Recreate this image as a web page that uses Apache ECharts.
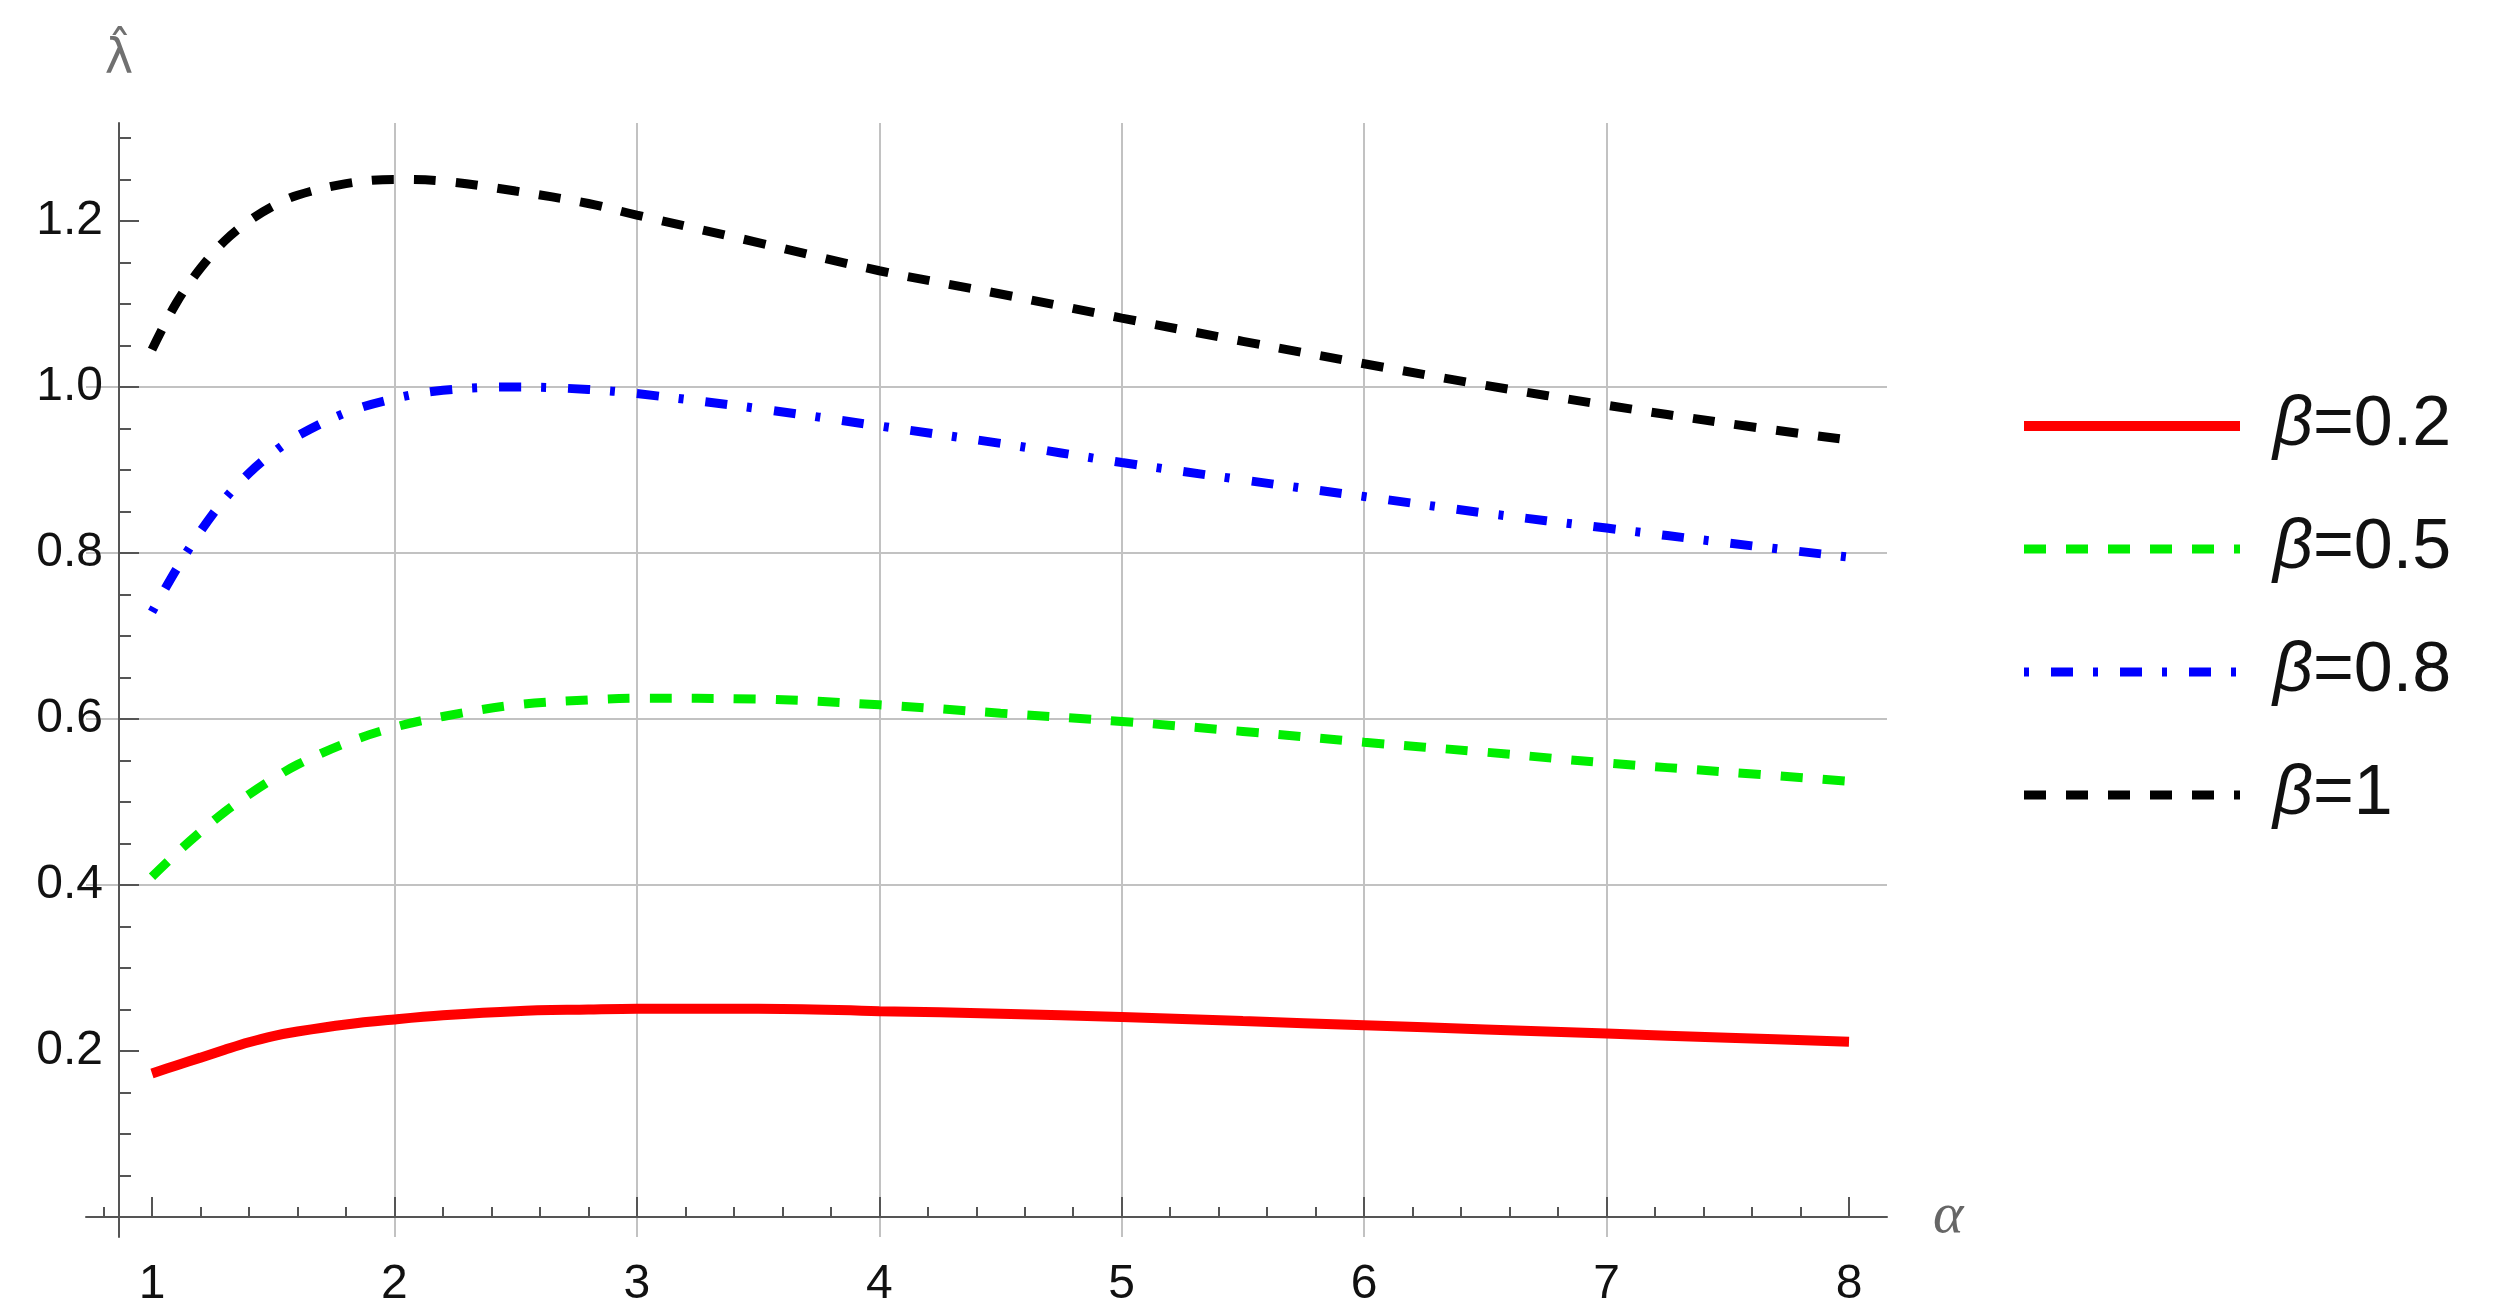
<!DOCTYPE html>
<html>
<head>
<meta charset="utf-8">
<script src="https://cdn.jsdelivr.net/npm/echarts@6/dist/echarts.min.js"></script>
<style>
html,body{margin:0;padding:0;background:#ffffff;}
#chart{width:2494px;height:1308px;}
</style>
</head>
<body>
<div id="chart"></div>
<script>
// ---- data ----
const alphaValues = [1.0, 1.1, 1.2, 1.3, 1.4, 1.5, 1.6, 1.8, 2.0, 2.2, 2.5, 2.8, 3.0, 3.5, 4.0, 4.5, 5.0, 5.5, 6.0, 6.5, 7.0, 7.5, 8.0];
const lambdaBeta02 = [0.173, 0.1825, 0.192, 0.2015, 0.2105, 0.218, 0.2235, 0.232, 0.238, 0.243, 0.248, 0.250, 0.251, 0.251, 0.248, 0.245, 0.241, 0.236, 0.231, 0.226, 0.221, 0.216, 0.211];
const lambdaBeta05 = [0.410, 0.438, 0.464, 0.488, 0.509, 0.528, 0.545, 0.571, 0.590, 0.603, 0.617, 0.623, 0.625, 0.624, 0.617, 0.607, 0.597, 0.585, 0.572, 0.560, 0.547, 0.536, 0.525];
const lambdaBeta08 = [0.729, 0.780, 0.826, 0.865, 0.896, 0.921, 0.941, 0.969, 0.986, 0.996, 1.000, 0.997, 0.992, 0.974, 0.953, 0.932, 0.909, 0.888, 0.868, 0.848, 0.830, 0.812, 0.795];
const lambdaBeta10 = [1.045, 1.101, 1.143, 1.176, 1.200, 1.218, 1.231, 1.245, 1.250, 1.248, 1.236, 1.221, 1.207, 1.174, 1.140, 1.112, 1.083, 1.055, 1.028, 1.002, 0.978, 0.956, 0.936];
const seriesNames = ['β=0.2', 'β=0.5', 'β=0.8', 'β=1'];
const xTickLabels = [1, 2, 3, 4, 5, 6, 7, 8];
const yTickLabels = [0.2, 0.4, 0.6, 0.8, 1.0, 1.2];
const xAxisTitle = 'α';
const yAxisTitle = 'λ\u0302';

// ---- layout / style ----
const X_MIN = 0.7278, X_MAX = 8.1567;
const Y_MIN = -0.0241, Y_MAX = 1.318;
const xMinorTicks = [];
for (let i = 4; i <= 40; i++) { if (i % 5 !== 0) xMinorTicks.push(Math.round(i * 20) / 100); }
const yMinorTicks = [];
for (let i = 1; i <= 26; i++) { yMinorTicks.push(Math.round(i * 5) / 100); }

const AXIS_COLOR = '#555555';
const GRID_COLOR = '#c2c2c2';
const LABEL_FONT = 'Liberation Sans';

function pairs(ys) { return alphaValues.map((a, i) => [a, ys[i]]); }

const chart = echarts.init(document.getElementById('chart'), null, {renderer: 'canvas'});
const option = {
  backgroundColor: '#ffffff',
  animation: false,
  grid: {left: 86, top: 123, width: 1801, height: 1114, containLabel: false, outerBoundsMode: 'none'},
  xAxis: [
    {
      type: 'value', min: X_MIN, max: X_MAX, position: 'bottom', splitNumber: 7,
      name: xAxisTitle, nameLocation: 'end', nameGap: 46,
      nameTextStyle: {fontFamily: 'Liberation Serif', fontStyle: 'italic', fontSize: 58, color: '#666666', verticalAlign: 'middle', align: 'left'},
      axisLine: {show: true, onZero: true, onZeroAxisIndex: 0, lineStyle: {color: AXIS_COLOR, width: 2}},
      axisTick: {show: true, customValues: xTickLabels, inside: true, length: 20, lineStyle: {color: AXIS_COLOR, width: 2}},
      axisLabel: {show: true, customValues: xTickLabels, fontSize: 48, fontFamily: LABEL_FONT, color: '#111111',
        verticalAlign: 'bottom', lineHeight: 48, margin: 72},
      splitLine: {show: true, showMinLine: false, showMaxLine: false, lineStyle: {color: GRID_COLOR, width: 2}}
    },
    {
      type: 'value', min: X_MIN, max: X_MAX, position: 'bottom', splitNumber: 7,
      axisLine: {show: false, onZero: true, onZeroAxisIndex: 0},
      axisTick: {show: true, customValues: xMinorTicks, inside: true, length: 10, lineStyle: {color: AXIS_COLOR, width: 2}},
      axisLabel: {show: false},
      splitLine: {show: false}
    }
  ],
  yAxis: [
    {
      type: 'value', min: Y_MIN, max: Y_MAX, position: 'left', offset: -33,
      name: yAxisTitle, nameLocation: 'end', nameGap: 38,
      nameTextStyle: {fontFamily: 'DejaVu Sans', fontSize: 48, color: '#707070'},
      axisLine: {show: true, onZero: false, lineStyle: {color: AXIS_COLOR, width: 2}},
      axisTick: {show: true, customValues: yTickLabels, inside: true, length: 20, lineStyle: {color: AXIS_COLOR, width: 2}},
      axisLabel: {show: true, customValues: yTickLabels, fontSize: 48, fontFamily: LABEL_FONT, color: '#111111', margin: 16,
        formatter: v => Number(v).toFixed(1)},
      splitLine: {show: true, showMinLine: false, showMaxLine: false, lineStyle: {color: GRID_COLOR, width: 2}}
    },
    {
      type: 'value', min: Y_MIN, max: Y_MAX, position: 'left', offset: -33,
      axisLine: {show: false, onZero: false},
      axisTick: {show: true, customValues: yMinorTicks, inside: true, length: 12, lineStyle: {color: AXIS_COLOR, width: 2}},
      axisLabel: {show: false},
      splitLine: {show: false}
    }
  ],
  legend: {
    orient: 'vertical', left: 2019, top: 391, padding: 0,
    itemWidth: 216, itemHeight: 20, itemGap: 53,
    data: seriesNames,
    itemStyle: {opacity: 0},
    lineStyle: {width: 'inherit'},
    formatter: n => '{i|β}' + n.slice(1),
    textStyle: {
      fontSize: 70, fontFamily: LABEL_FONT, color: '#111111', lineHeight: 70, padding: [0, 0, 0, 28],
      rich: {i: {fontSize: 70, fontFamily: LABEL_FONT, fontStyle: 'italic', color: '#111111', lineHeight: 70}}
    }
  },
  series: [
    {name: seriesNames[0], type: 'line', xAxisIndex: 0, yAxisIndex: 0, data: pairs(lambdaBeta02), smooth: 0.35,
      symbol: 'none', showSymbol: false, itemStyle: {color: '#ff0000'},
      lineStyle: {color: '#ff0000', width: 10, type: 'solid', cap: 'butt'}},
    {name: seriesNames[1], type: 'line', xAxisIndex: 0, yAxisIndex: 0, data: pairs(lambdaBeta05), smooth: 0.35,
      symbol: 'none', showSymbol: false, itemStyle: {color: '#00ee00'},
      lineStyle: {color: '#00ee00', width: 9, type: [22, 20], cap: 'butt'}},
    {name: seriesNames[2], type: 'line', xAxisIndex: 0, yAxisIndex: 0, data: pairs(lambdaBeta08), smooth: 0.35,
      symbol: 'none', showSymbol: false, itemStyle: {color: '#0000ff'},
      lineStyle: {color: '#0000ff', width: 9, type: [5, 22, 22, 20], cap: 'butt'}},
    {name: seriesNames[3], type: 'line', xAxisIndex: 0, yAxisIndex: 0, data: pairs(lambdaBeta10), smooth: 0.35,
      symbol: 'none', showSymbol: false, itemStyle: {color: '#000000'},
      lineStyle: {color: '#000000', width: 9, type: [22, 20], cap: 'butt'}}
  ]
};
chart.setOption(option);
</script>
</body>
</html>
